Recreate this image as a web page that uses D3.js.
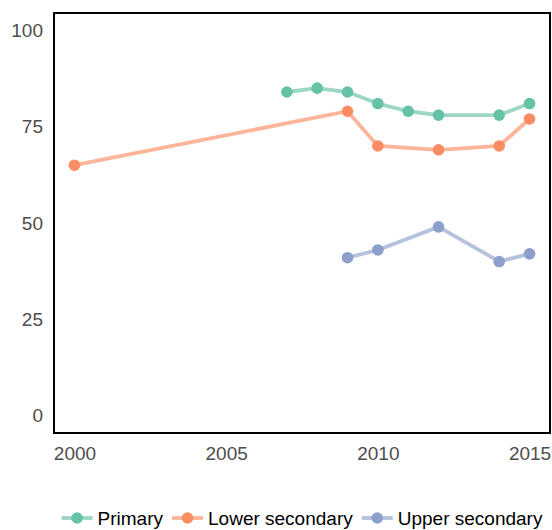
<!DOCTYPE html>
<html>
<head>
<meta charset="utf-8">
<script src="https://cdn.jsdelivr.net/npm/d3@7"></script>
<style>
  body { margin: 0; background: #fff; }
  svg { display: block; font-family: "Liberation Sans", Arial, sans-serif; }
</style>
</head>
<body>
<svg id="chart" width="552" height="530"></svg>
<script>
// data
const primaryYears = [2007, 2008, 2009, 2010, 2011, 2012, 2014, 2015];
const primaryValues = [84, 85, 84, 81, 79, 78, 78, 81];

const lowerYears = [2000, 2009, 2010, 2012, 2014, 2015];
const lowerValues = [65, 79, 70, 69, 70, 77];

const upperYears = [2009, 2010, 2012, 2014, 2015];
const upperValues = [41, 43, 49, 40, 42];

const seriesNames = ['Primary', 'Lower secondary', 'Upper secondary'];
const seriesColors = ['#66c2a5', '#fc8d62', '#8da0cb'];

const xTicks = [2000, 2005, 2010, 2015];
const yTicks = [0, 25, 50, 75, 100];

const series = [
  {name: seriesNames[0], color: seriesColors[0], pts: primaryYears.map((d, i) => ({x: d, y: primaryValues[i]}))},
  {name: seriesNames[1], color: seriesColors[1], pts: lowerYears.map((d, i) => ({x: d, y: lowerValues[i]}))},
  {name: seriesNames[2], color: seriesColors[2], pts: upperYears.map((d, i) => ({x: d, y: upperValues[i]}))}
];

const panel = {left: 54, right: 550, top: 13, bottom: 433};

const svg = d3.select('#chart');

// ggplot-like 4.5% expansion
const x = d3.scaleLinear()
  .domain([2000 - 15 * 0.045, 2015 + 15 * 0.045])
  .range([panel.left, panel.right]);

const y = d3.scaleLinear()
  .domain([-4.5, 104.5])
  .range([panel.bottom, panel.top]);

// axes, no tick marks
const xAxis = d3.axisBottom(x).tickValues(xTicks).tickFormat(d3.format('d')).tickSize(0).tickPadding(14);
const yAxis = d3.axisLeft(y).tickValues(yTicks).tickSize(0).tickPadding(11);

const axisX = svg.append('g')
  .attr('transform', `translate(0, ${panel.bottom})`)
  .call(xAxis);

const axisY = svg.append('g')
  .attr('transform', `translate(${panel.left}, 0)`)
  .call(yAxis);

[axisX, axisY].forEach(a => {
  a.select('.domain').remove();
  a.selectAll('text')
    .attr('fill', '#4d4d4d')
    .style('font-size', '19px')
    .style('font-family', '"Liberation Sans", Arial, sans-serif');
});

const line = d3.line()
  .x(d => x(d.x))
  .y(d => y(d.y));

const g = svg.append('g');

series.forEach(s => {
  g.append('path')
    .datum(s.pts)
    .attr('fill', 'none')
    .attr('stroke', s.color)
    .attr('stroke-opacity', 0.65)
    .attr('stroke-width', 3.8)
    .attr('d', line);

  g.selectAll(null)
    .data(s.pts)
    .enter()
    .append('circle')
    .attr('cx', d => x(d.x))
    .attr('cy', d => y(d.y))
    .attr('r', 5.8)
    .attr('fill', s.color);
});

// panel border
svg.append('rect')
  .attr('x', panel.left)
  .attr('y', panel.top)
  .attr('width', panel.right - panel.left)
  .attr('height', panel.bottom - panel.top)
  .attr('fill', 'none')
  .attr('stroke', '#000')
  .attr('stroke-width', 2);

// legend, centred under the panel
const legend = svg.append('g');
const keyW = 31, keyGap = 5, itemGap = 9, baseY = 525;
let cx = 0;
series.forEach(s => {
  const it = legend.append('g');
  it.append('line')
    .attr('x1', 0).attr('x2', keyW)
    .attr('y1', baseY - 7).attr('y2', baseY - 7)
    .attr('stroke', s.color)
    .attr('stroke-opacity', 0.65)
    .attr('stroke-width', 3.8);
  it.append('circle')
    .attr('cx', keyW / 2).attr('cy', baseY - 7)
    .attr('r', 5.8)
    .attr('fill', s.color);
  const t = it.append('text')
    .attr('x', keyW + keyGap)
    .attr('y', baseY)
    .attr('fill', '#000')
    .style('font-size', '19px')
    .text(s.name);
  it.attr('transform', `translate(${cx}, 0)`);
  cx += keyW + keyGap + t.node().getComputedTextLength() + itemGap;
});
const legendW = cx - itemGap;
legend.attr('transform', `translate(${(panel.left + panel.right) / 2 - legendW / 2}, 0)`);
</script>
</body>
</html>
